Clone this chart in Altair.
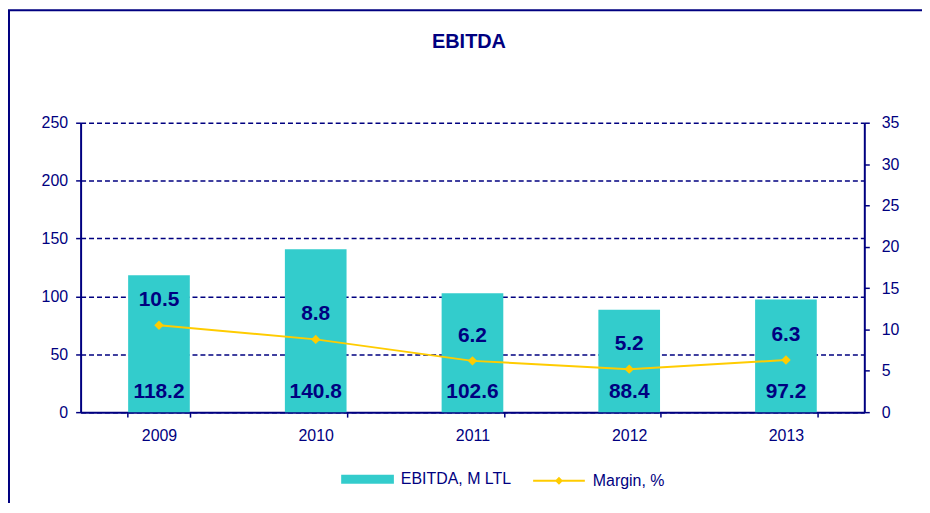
import altair as alt
import pandas as pd

years = ["2009", "2010", "2011", "2012", "2013"]
ebitda = [118.2, 140.8, 102.6, 88.4, 97.2]
margin = [10.5, 8.8, 6.2, 5.2, 6.3]
bar_series = "EBITDA, M LTL"
line_series = "Margin, %"
chart_title = ["EBITDA"]
left_ticks = [0, 50, 100, 150, 200, 250]
right_ticks = [0, 5, 10, 15, 20, 25, 30, 35]

NAVY = "#000080"
TEAL = "#33CCCC"
GOLD = "#FFCC00"
FONT = "Liberation Sans"

df = pd.DataFrame({
    "year": years,
    "ebitda": ebitda,
    "margin": margin,
    "s1": [bar_series] * len(years),
    "s2": [line_series] * len(years),
})

x_enc = alt.X(
    "year:N",
    title=None,
    sort=years,
    scale=alt.Scale(paddingInner=0.6, paddingOuter=0.3),
    axis=alt.Axis(labelAngle=0, tickBand="extent", labelPadding=11, domainWidth=2,
                  tickSize=5),
)

base = alt.Chart(df)

bars = base.mark_bar(size=62).encode(
    x=x_enc,
    y=alt.Y("ebitda:Q", title=None,
            scale=alt.Scale(domain=[0, 250], nice=False),
            axis=alt.Axis(values=left_ticks, grid=True, orient="left", labelPadding=8)),
    fill=alt.Fill("s1:N", scale=alt.Scale(domain=[bar_series], range=[TEAL]),
                  legend=alt.Legend(orient="none", legendX=262, legendY=332, title=None,
                                    symbolType="M-1,-0.17H1V0.17H-1Z", symbolSize=2809,
                                    symbolStrokeWidth=0, labelFontSize=16, labelColor=NAVY,
                                    labelFont=FONT, labelOffset=7, padding=0)),
)

bar_text = base.mark_text(font=FONT, fontSize=21, fontWeight="bold", color=NAVY,
                          baseline="middle", dy=-20).encode(
    x=x_enc,
    y=alt.Y(datum=0),
    text=alt.Text("ebitda:Q", format=".1f"),
)

left = alt.layer(bars, bar_text)

line = base.mark_line(strokeWidth=2).encode(
    x=x_enc,
    y=alt.Y("margin:Q", title=None,
            scale=alt.Scale(domain=[0, 35], nice=False),
            axis=alt.Axis(values=right_ticks, grid=False, orient="right", labelPadding=12)),
    stroke=alt.Stroke("s2:N", scale=alt.Scale(domain=[line_series], range=[GOLD]),
                      legend=alt.Legend(orient="none", legendX=454, legendY=333, title=None,
                                        symbolType="M-1,0H1M0,-0.1L0.1,0L0,0.1L-0.1,0Z",
                                        symbolSize=2704, symbolStrokeWidth=2,
                                        labelFontSize=16, labelColor=NAVY, labelFont=FONT,
                                        labelOffset=7, padding=0)),
)

points = base.mark_point(shape="diamond", filled=True, color=GOLD, size=90, opacity=1).encode(
    x=x_enc,
    y=alt.Y("margin:Q"),
)

margin_text = base.mark_text(font=FONT, fontSize=21, fontWeight="bold", color=NAVY,
                             baseline="middle", dy=-25).encode(
    x=x_enc,
    y=alt.Y("margin:Q"),
    text=alt.Text("margin:Q", format=".1f"),
)

right = alt.layer(line, points, margin_text)

frame = alt.Chart(pd.DataFrame({"f": [1]})).mark_rect(
    filled=False, stroke=NAVY, strokeWidth=2
).encode(
    x=alt.value(-72), x2=alt.value(900), y=alt.value(-113), y2=alt.value(500)
)

title = alt.Chart(pd.DataFrame({"t": chart_title})).mark_text(
    font=FONT, fontSize=20, fontWeight="bold", color=NAVY, align="center",
    baseline="alphabetic"
).encode(
    text="t:N", x=alt.value(390.5), y=alt.value(-75)
)

chart = alt.layer(left, right, frame, title).resolve_scale(
    y="independent", fill="independent", stroke="independent"
).properties(
    width=788,
    height=291,
    padding={"left": 73, "top": 114, "right": 58, "bottom": 90},
    autosize=alt.AutoSizeParams(type="none"),
).configure_axis(
    labelFont=FONT, labelFontSize=16, labelColor=NAVY,
    domainColor=NAVY, domainWidth=2, tickColor=NAVY, tickWidth=1.5, tickSize=5,
    gridColor=NAVY, gridDash=[5, 3], gridWidth=1.5, gridOpacity=1,
).configure_view(stroke=None)

chart.save("out.html", embed_options={"renderer": "svg", "actions": False})
